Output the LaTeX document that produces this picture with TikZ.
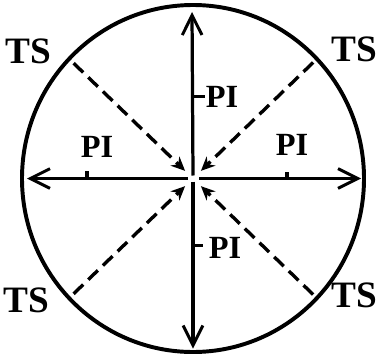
\documentclass[tikz,border=0pt]{standalone}
\usepackage{fontspec}
\setmainfont{Liberation Serif}
\usetikzlibrary{arrows.meta}
\begin{document}
\begin{tikzpicture}[x=0.025cm, y=0.025cm,
    axis/.style={line width=2.3pt, -{Straight Barb[length=14pt, width=14pt, line width=2.1pt]}},
    inflow/.style={line width=2.4pt, dash pattern=on 9.5pt off 5pt, -{Stealth[length=10pt, width=9pt]}},
    tick/.style={line width=2.3pt},
    tslabel/.style={font=\bfseries\fontsize{26.5}{30}\selectfont, inner sep=0pt},
    pilabel/.style={font=\bfseries\fontsize{23}{26}\selectfont, inner sep=0pt}]
    \useasboundingbox (-193,-176.5) rectangle (186,178.5);
    % outer circle and its centre
    \coordinate (o) at (0,0);
    \draw[line width=2.8pt] (o) ellipse [x radius=171, y radius=173.5];
    % solid arrows from the centre
    \coordinate (o n) at (0,3);   \coordinate (top) at (-1,166.5);
    \coordinate (o s) at (0,-3);  \coordinate (bottom) at (0,-170);
    \coordinate (o w) at (-5,0);  \coordinate (left) at (-166,0);
    \coordinate (o e) at (6,0);   \coordinate (right) at (168,0);
    \draw[axis] (o n) -- (top);
    \draw[axis] (o s) -- (bottom);
    \draw[axis] (o w) -- (left);
    \draw[axis] (o e) -- (right);
    % dashed arrows into the centre
    \coordinate (ul) at (136:166); \coordinate (ul end) at (136:11);
    \coordinate (ur) at (44:167);  \coordinate (ur end) at (44:11);
    \coordinate (ll) at (224:166); \coordinate (ll end) at (224:11);
    \coordinate (lr) at (316:167); \coordinate (lr end) at (316:11);
    \draw[inflow] (ul) -- (ul end);
    \draw[inflow] (ur) -- (ur end);
    \draw[inflow] (ll) -- (ll end);
    \draw[inflow] (lr) -- (lr end);
    % labels
    \node[tslabel] (ts ul) at (-165,127) {TS};
    \node[tslabel] (ts ur) at (161,129) {TS};
    \node[tslabel] (ts ll) at (-167,-121.5) {TS};
    \node[tslabel] (ts lr) at (161,-117) {TS};
    \node[pilabel] (pi n) at (29,82) {PI};
    \node[pilabel] (pi w) at (-96,32) {PI};
    \node[pilabel] (pi e) at (99,34) {PI};
    \node[pilabel] (pi s) at (32,-69.5) {PI};
    % ticks beside the PI labels
    \draw[tick] (0,82) -- ++(12,0);
    \draw[tick] (0,-67) -- ++(10,0);
    \draw[tick] (-106,0) -- ++(0,8);
    \draw[tick] (94,0) -- ++(0,7);
\end{tikzpicture}
\end{document}
